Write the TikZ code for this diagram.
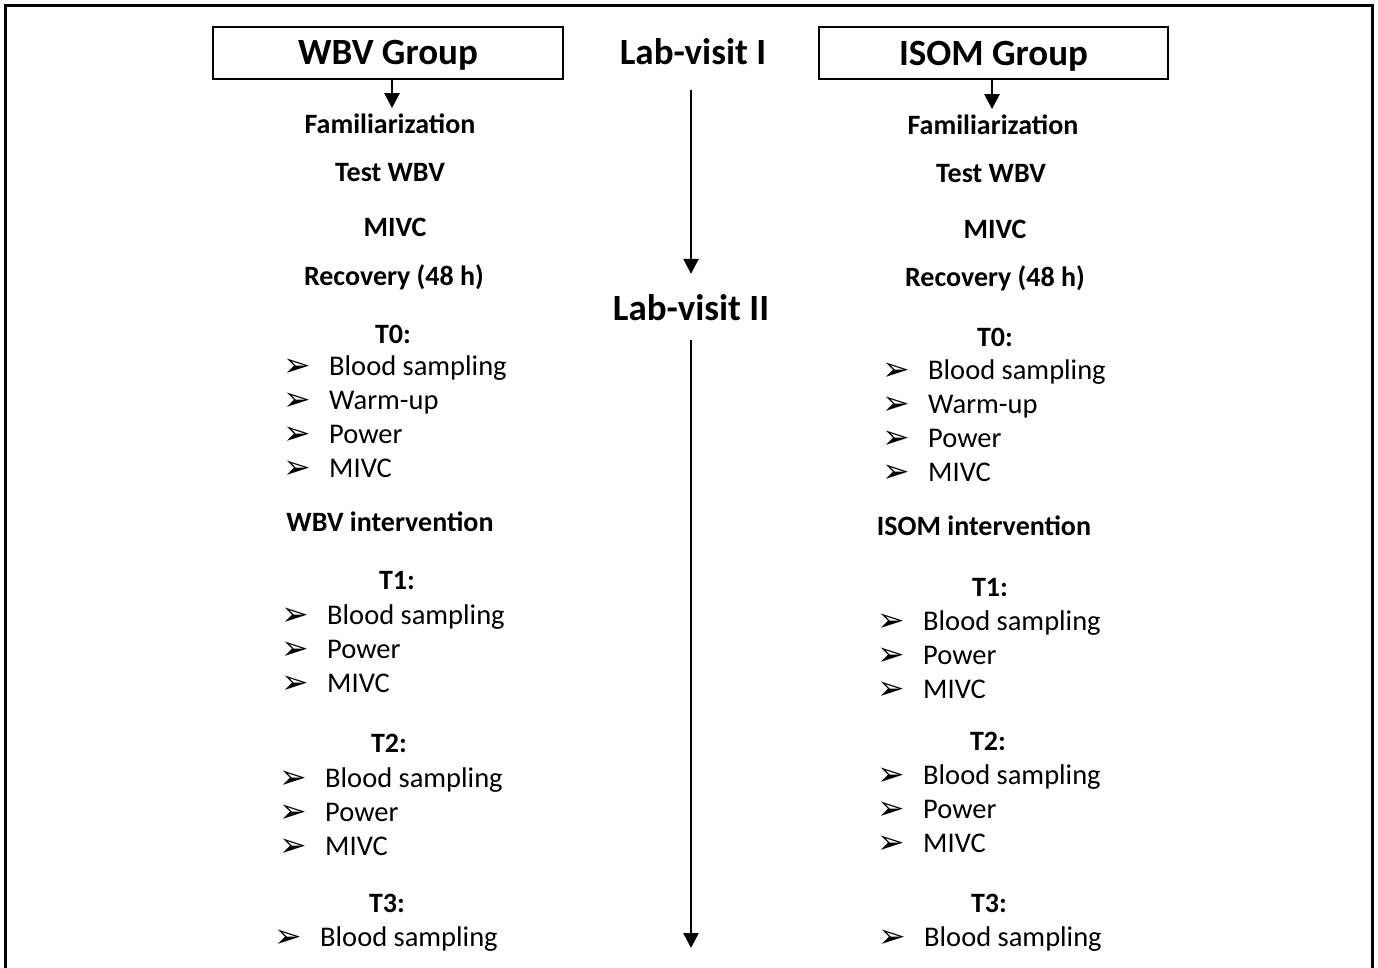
\documentclass[tikz,border=0pt]{standalone}
\usepackage{fontspec}
\setmainfont{Carlito}
\newfontfamily\dingfont{DejaVu Sans}
\usetikzlibrary{arrows.meta, positioning}
\newcommand\listarrow{\makebox[46pt][l]{\raisebox{-1pt}{\dingfont\fontsize{33}{33}\selectfont ➢}}}
\tikzset{
  groupbox/.style={rectangle, draw, line width=2pt, minimum width=350pt,
                   minimum height=52pt, text height=24pt, text depth=0pt,
                   inner sep=0pt, font=\fontsize{37}{40}\selectfont\bfseries},
  visit/.style={inner sep=0pt, anchor=base, font=\fontsize{37}{40}\selectfont\bfseries},
  stage/.style={inner sep=0pt, anchor=base, font=\fontsize{28}{32}\selectfont\bfseries},
  item/.style={inner sep=0pt, anchor=base west, font=\fontsize{28.5}{32}\selectfont},
  arrow/.style={-{Triangle[length=15pt, width=15pt]}, line width=2.5pt},
}
\begin{document}
\begin{tikzpicture}[x=1pt, y=-1pt]
  \useasboundingbox (0,0) rectangle (1378,968);
  % frame, open at the bottom
  \draw[line width=3pt] (5.5,968) -- (5.5,5.5) -- (1372,5.5) -- (1372,968);

  \node[groupbox] (wbv) at (388,53) {WBV Group};
  \node[groupbox, minimum width=349pt] (isom) at (993.5,53.5) {ISOM Group};
  \node[visit] (lab1) at (693,65) {Lab-visit I};
  \node[visit] (lab2) at (691,320) {Lab-visit II};
  \coordinate (labend) at (691,948);

  % WBV group
  \node[stage] (wFam) at (390,134) {Familiarization};
  \node[stage] (wTest) at (390,182) {Test WBV};
  \node[stage] (wMivc) at (395,237) {MIVC};
  \node[stage] (wRec) at (394,285) {Recovery (48 h)};
  \node[stage] (wT0) at (393,343) {T0:};
  \node[item] (wT0a) at (283,375) {\listarrow Blood sampling};
  \node[item] (wT0b) at (283,409) {\listarrow Warm-up};
  \node[item] (wT0c) at (283,443) {\listarrow Power};
  \node[item] (wT0d) at (283,477) {\listarrow MIVC};
  \node[stage] (wInt) at (390,531) {WBV intervention};
  \node[stage] (wT1) at (397,589) {T1:};
  \node[item] (wT1a) at (281,624) {\listarrow Blood sampling};
  \node[item] (wT1b) at (281,658) {\listarrow Power};
  \node[item] (wT1c) at (281,692) {\listarrow MIVC};
  \node[stage] (wT2) at (389,752) {T2:};
  \node[item] (wT2a) at (279,787) {\listarrow Blood sampling};
  \node[item] (wT2b) at (279,821) {\listarrow Power};
  \node[item] (wT2c) at (279,855) {\listarrow MIVC};
  \node[stage] (wT3) at (387,912) {T3:};
  \node[item] (wT3a) at (274,946) {\listarrow Blood sampling};

  % ISOM group
  \node[stage] (iFam) at (993,135) {Familiarization};
  \node[stage] (iTest) at (991,183) {Test WBV};
  \node[stage] (iMivc) at (995,239) {MIVC};
  \node[stage] (iRec) at (995,287) {Recovery (48 h)};
  \node[stage] (iT0) at (995,346) {T0:};
  \node[item] (iT0a) at (882,379) {\listarrow Blood sampling};
  \node[item] (iT0b) at (882,413) {\listarrow Warm-up};
  \node[item] (iT0c) at (882,447) {\listarrow Power};
  \node[item] (iT0d) at (882,481) {\listarrow MIVC};
  \node[stage] (iInt) at (984,535) {ISOM intervention};
  \node[stage] (iT1) at (990,596) {T1:};
  \node[item] (iT1a) at (877,630) {\listarrow Blood sampling};
  \node[item] (iT1b) at (877,664) {\listarrow Power};
  \node[item] (iT1c) at (877,698) {\listarrow MIVC};
  \node[stage] (iT2) at (988,750) {T2:};
  \node[item] (iT2a) at (877,784) {\listarrow Blood sampling};
  \node[item] (iT2b) at (877,818) {\listarrow Power};
  \node[item] (iT2c) at (877,852) {\listarrow MIVC};
  \node[stage] (iT3) at (989,912) {T3:};
  \node[item] (iT3a) at (878,946) {\listarrow Blood sampling};

  \draw[arrow, shorten >=6pt] ([xshift=4pt]wbv.south) -- ([xshift=4pt]wbv.south |- wFam.north);
  \draw[arrow, shorten >=6pt] ([xshift=-1.5pt]isom.south) -- ([xshift=-1.5pt]isom.south |- iFam.north);
  \draw[arrow, shorten <=25pt, shorten >=20pt] (lab2 |- lab1.south) -- (lab2);
  \draw[arrow, shorten <=20pt] (lab2) -- (labend);
\end{tikzpicture}
\end{document}
